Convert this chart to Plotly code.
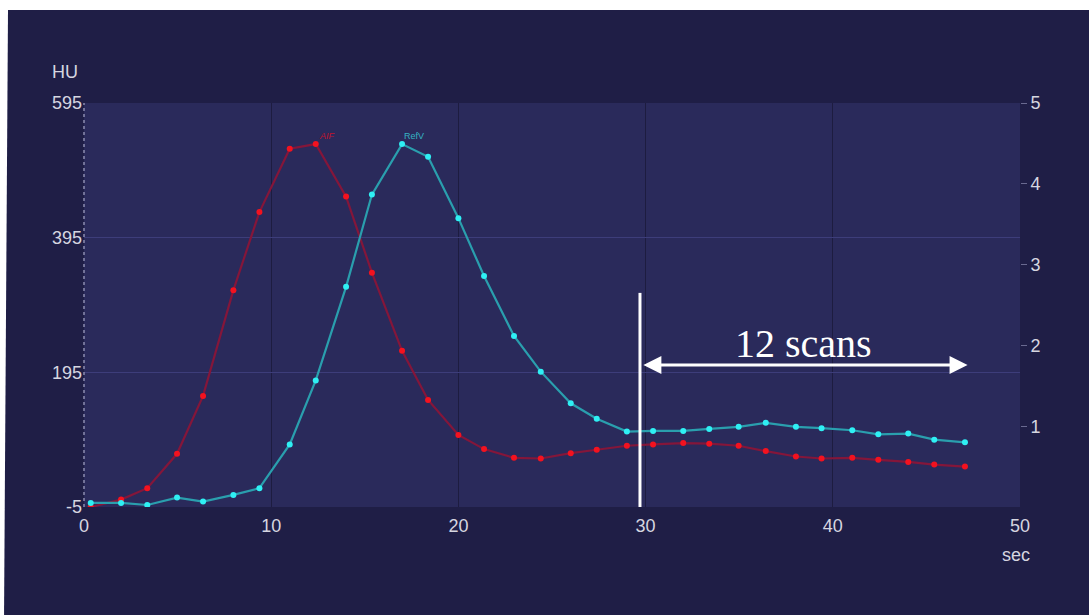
import plotly.graph_objects as go

# Scan times (s) and attenuation curves (HU)
time_s = [0.36, 1.98, 3.38, 4.97, 6.36, 7.98, 9.37, 10.99, 12.38, 14.0, 15.38, 16.99,
          18.38, 20.0, 21.37, 22.97, 24.4, 26.0, 27.39, 29.0, 30.4, 32.01, 33.4, 34.97,
          36.42, 38.03, 39.4, 41.04, 42.43, 44.03, 45.42, 47.06]
aif_hu = [-5, 6, 23, 74, 160, 317, 433, 527, 534, 456, 343, 227,
          154, 102, 81, 68, 67, 75, 80, 86, 88, 90, 89, 86,
          78, 70, 67, 68, 65, 62, 58, 55]
refv_hu = [1, 1, -2, 9, 3, 13, 23, 88, 183, 322, 459, 534,
           515, 424, 338, 249, 196, 149, 126, 107, 108, 108, 111, 114,
           120, 114, 112, 109, 103, 104, 95, 91]

x_ticks = [0, 10, 20, 30, 40, 50]
hu_ticks = [-5, 195, 395, 595]
right_ticks = [1, 2, 3, 4, 5]

# Window of the late scans
window_start = 29.7
window_end = 47.2
window_label = "12 scans"
window_y = 206

W, H = 1089, 615
ML, MR, MT, MB = 84, 69, 103, 108
PW, PH = W - ML - MR, H - MT - MB


def px(xp):
    return (xp - ML) / PW


def py(yp):
    return (H - MB - yp) / PH


outer_bg = "#1f1e46"
plot_bg = "#2a2a5b"
tick_font = dict(family="Liberation Sans, Arial", size=18, color="#d6d6e0")

fig = go.Figure()

fig.add_trace(go.Scatter(
    x=time_s, y=aif_hu, mode="lines+markers", name="AIF",
    line=dict(color="#84163a", width=2.2),
    marker=dict(color="#f3121f", size=6),
    showlegend=False,
))
fig.add_trace(go.Scatter(
    x=time_s, y=refv_hu, mode="lines+markers", name="RefV",
    line=dict(color="#2a9fae", width=2.2),
    marker=dict(color="#2ff0f4", size=6),
    showlegend=False,
))
# invisible trace to carry the right-hand axis
fig.add_trace(go.Scatter(x=[None], y=[None], yaxis="y2", showlegend=False, hoverinfo="skip"))

peak_a = aif_hu.index(max(aif_hu))
peak_r = refv_hu.index(max(refv_hu))

annotations = [
    dict(x=time_s[peak_a], y=aif_hu[peak_a], text="<i>AIF</i>", showarrow=False,
         xanchor="left", yanchor="bottom", xshift=1, yshift=1,
         font=dict(family="Liberation Sans, Arial", size=9, color="#c0142c")),
    dict(x=time_s[peak_r], y=refv_hu[peak_r], text="RefV", showarrow=False,
         xanchor="left", yanchor="bottom", xshift=0, yshift=1,
         font=dict(family="Liberation Sans, Arial", size=9, color="#35b2c2")),
    dict(x=px(65), y=py(72), xref="paper", yref="paper", text="HU", showarrow=False,
         xanchor="center", yanchor="middle", font=tick_font),
    dict(x=px(1016), y=py(555), xref="paper", yref="paper", text="sec", showarrow=False,
         xanchor="center", yanchor="middle", font=tick_font),
    # double-headed arrow spanning the late scans
    dict(x=window_end, y=window_y, ax=window_start + 0.1, ay=window_y,
         xref="x", yref="y", axref="x", ayref="y", text="",
         showarrow=True, arrowhead=2, startarrowhead=2, arrowside="end+start",
         arrowsize=1.2, startarrowsize=1.2, arrowwidth=3, arrowcolor="white"),
    dict(x=(window_start + window_end) / 2, y=window_y, text=window_label,
         showarrow=False, yanchor="bottom", yshift=-3,
         font=dict(family="Liberation Serif, Times New Roman, serif", size=40, color="white")),
]

shapes = [
    # white border of the page
    dict(type="rect", xref="paper", yref="paper", x0=px(-5), x1=px(W + 5),
         y0=py(10), y1=py(-20), fillcolor="white", line_width=0, layer="below"),
    dict(type="path", xref="paper", yref="paper",
         path=f"M {px(-5)},{py(-5)} L {px(8)},{py(-5)} L {px(8)},{py(10)} L {px(4)},{py(H + 5)} L {px(-5)},{py(H + 5)} Z",
         fillcolor="white", line_width=0, layer="below"),
    # dotted left axis
    dict(type="line", xref="paper", yref="paper", x0=0, x1=0, y0=0, y1=1,
         line=dict(color="#8c8cb0", width=1.5, dash="dot")),
    # start of the late-scan window
    dict(type="line", xref="x", yref="y", x0=window_start, x1=window_start,
         y0=-5, y1=313, line=dict(color="white", width=3)),
]

fig.update_layout(
    width=W, height=H, autosize=False,
    margin=dict(l=ML, r=MR, t=MT, b=MB, pad=0),
    paper_bgcolor=outer_bg, plot_bgcolor=plot_bg,
    xaxis=dict(range=[0, 50], tickvals=x_ticks, ticktext=[str(v) for v in x_ticks],
               showgrid=True, gridcolor="#1d1c40", gridwidth=1.2, zeroline=False,
               showline=False, ticks="", tickfont=tick_font, ticklabelstandoff=6),
    yaxis=dict(range=[-5, 595], tickvals=hu_ticks, ticktext=[str(v) for v in hu_ticks],
               showgrid=True, gridcolor="#3d3d7a", gridwidth=1.2, zeroline=False,
               showline=False, ticks="", tickfont=tick_font, ticklabelstandoff=1),
    yaxis2=dict(range=[0, 5], overlaying="y", side="right", tickvals=right_ticks,
                showgrid=False, zeroline=False, showline=False, ticks="outside",
                ticklen=6, tickcolor="#6a6a90", tickfont=tick_font),
    annotations=annotations,
    shapes=shapes,
)

fig.write_html("out.html")
